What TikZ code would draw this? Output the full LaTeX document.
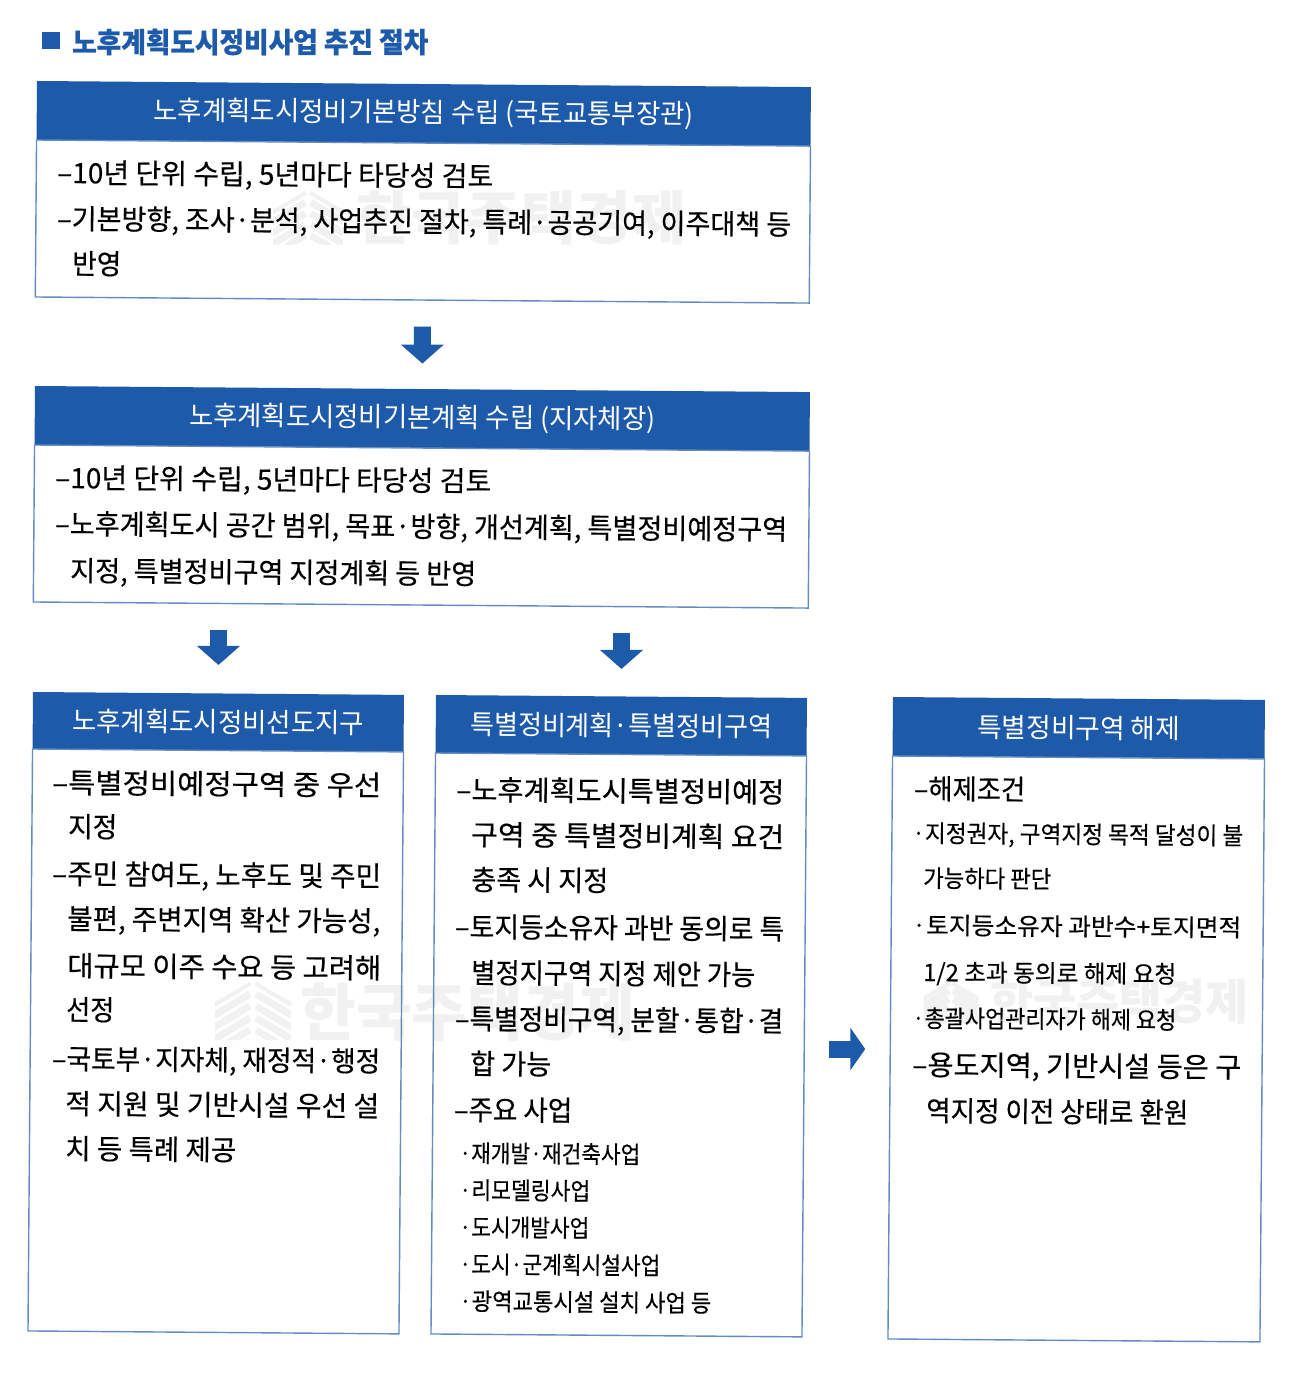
\documentclass[tikz,border=0pt]{standalone}
\usepackage{graphicx}
\usepackage{fontspec}
\setmainfont{Noto Sans CJK KR}
\newfontfamily\linefont[FakeBold=0.35]{Noto Sans CJK KR}
\newfontfamily\titlefont[FakeBold=0.7]{Noto Sans CJK KR}
\usetikzlibrary{positioning, arrows.meta, calc}

\definecolor{headblue}{RGB}{30,90,170}
\definecolor{edgeblue}{RGB}{100,140,195}
\definecolor{markgray}{RGB}{241,241,241}

% keep the height, squeeze the line to its width
\newcommand{\fitline}[2]{\resizebox{#1pt}{\height}{#2}}

\tikzset{
  headbox/.style={fill=headblue, text=white, rotate=-0.45, anchor=north west, inner sep=0pt, outer sep=0pt,
    minimum height=#1, font=\fontsize{27}{30}\selectfont},
  bodybox/.style={draw=edgeblue, line width=1.4pt, rotate=-0.45, anchor=north west, inner sep=0pt, outer sep=0pt,
    minimum height=#1},
  bigline/.style={anchor=base west, rotate=-0.45, inner sep=0pt, font=\linefont\fontsize{28}{30}\selectfont},
  smallline/.style={anchor=base west, rotate=-0.45, inner sep=0pt, font=\linefont\fontsize{24}{26}\selectfont},
  flowarrow/.style={draw=headblue, line width=17pt, -{Triangle[width=42pt,length=19pt]}},
  markword/.style={text=markgray, inner sep=0pt, anchor=west, font=\bfseries\fontsize{#1}{#1}\selectfont},
  marklogo/.pic={
    \begin{scope}
      \clip (-38,-8) -- (0,-30) -- (38,-8) -- (38,30) -- (-38,30) -- cycle;
      \foreach \k in {0,...,5} {
        \draw[markgray, line width=7pt] (-40,-6+\k*12) -- (-3,-28+\k*12);
        \draw[markgray, line width=7pt] (3,-28+\k*12) -- (40,-6+\k*12);
      }
    \end{scope}
  }
}

\begin{document}
\begin{tikzpicture}[x=1pt,y=-1pt]
  \fill[white] (0,0) rectangle (1290,1377);
  \useasboundingbox (0,0) rectangle (1290,1377);

  % Faint marks behind the text
  \pic[scale=0.92] at (308,217) {marklogo};
  \node[markword=58] (mark1) at (356,218) {\fitline{330}{한국주택경제}};
  \pic[scale=1] at (253,1010) {marklogo};
  \node[markword=62] (mark2) at (300,1012) {\fitline{335}{한국주택경제}};
  \pic[scale=0.72] at (951,1002) {marklogo};
  \node[markword=48] (mark3) at (990,1002) {\fitline{258}{한국주택경제}};

  % Title
  \node[fill=headblue, inner sep=0pt, minimum width=18pt, minimum height=17pt] (titlemark) at (51,40.5) {};
  \node[anchor=west, inner sep=0pt, text=headblue, font=\titlefont\bfseries\fontsize{28}{30}\selectfont] (title) at (72,42)
    {\fitline{356}{노후계획도시정비사업 추진 절차}};

  % Boxes
  \node[headbox=59pt, minimum width=774pt] (polhead) at (37,81) {\fitline{540}{노후계획도시정비기본방침 수립 (국토교통부장관)}};
  \node[bodybox=157pt, minimum width=774pt] (polbody) at (polhead.south west) {};

  \node[headbox=59pt, minimum width=775pt] (planhead) at (35,386) {\fitline{466}{노후계획도시정비기본계획 수립 (지자체장)}};
  \node[bodybox=157pt, minimum width=775pt] (planbody) at (planhead.south west) {};

  \node[headbox=57pt, minimum width=371pt] (pilothead) at (33,692) {\fitline{292}{노후계획도시정비선도지구}};
  \node[bodybox=582pt, minimum width=371pt] (pilotbody) at (pilothead.south west) {};

  \node[headbox=58pt, minimum width=371pt] (spechead) at (436,695) {\fitline{302}{특별정비계획·특별정비구역}};
  \node[bodybox=581pt, minimum width=371pt] (specbody) at (spechead.south west) {};

  \node[headbox=59pt, minimum width=372pt] (relhead) at (893,697) {\fitline{203}{특별정비구역 해제}};
  \node[bodybox=583pt, minimum width=372pt] (relbody) at (relhead.south west) {};

  % Lines of text
  \foreach \id/\sty/\x/\xe/\y/\txt in {
    pola/bigline/57/493/183/{–10년 단위 수립, 5년마다 타당성 검토},
    polb/bigline/57/791/229/{–기본방향, 조사·분석, 사업추진 절차, 특례·공공기여, 이주대책 등},
    polc/bigline/72/121/274/{반영},
    plana/bigline/55/491/488/{–10년 단위 수립, 5년마다 타당성 검토},
    planb/bigline/55/787/534/{–노후계획도시 공간 범위, 목표·방향, 개선계획, 특별정비예정구역},
    planc/bigline/70/476/581/{지정, 특별정비구역 지정계획 등 반영},
    pilota/bigline/52/381/793/{–특별정비예정구역  중  우선},
    pilotb/bigline/68/117/837/{지정},
    pilotc/bigline/52/381/884/{–주민 참여도, 노후도 및 주민},
    pilotd/bigline/67/380/929/{불편, 주변지역 확산 가능성,},
    pilote/bigline/67/381/976/{대규모 이주 수요 등 고려해},
    pilotf/bigline/66/114/1020/{선정},
    pilotg/bigline/52/380/1069/{–국토부·지자체, 재정적·행정},
    piloth/bigline/65/379/1114/{적 지원 및 기반시설 우선 설},
    piloti/bigline/65/236/1159/{치 등 특례 제공},
    speca/bigline/456/784/800/{–노후계획도시특별정비예정},
    specb/bigline/471/784/845/{구역 중 특별정비계획 요건},
    specc/bigline/471/608/890/{충족 시 지정},
    specd/bigline/455/784/937/{–토지등소유자 과반 동의로 특},
    spece/bigline/471/755/983/{별정지구역 지정 제안 가능},
    specf/bigline/455/783/1029/{–특별정비구역, 분할·통합·결},
    specg/bigline/470/551/1074/{합 가능},
    spech/bigline/454/572/1120/{–주요 사업},
    speci/smallline/459/640/1162/{·재개발·재건축사업},
    specj/smallline/459/590/1199/{·리모델링사업},
    speck/smallline/459/589/1236/{·도시개발사업},
    specl/smallline/459/660/1273/{·도시·군계획시설사업},
    specm/smallline/459/711/1310/{·광역교통시설 설치 사업 등},
    rela/bigline/914/1025/799/{–해제조건},
    relb/smallline/912/1243/842/{·지정권자, 구역지정 목적 달성이 불},
    relc/smallline/923/1051/887/{가능하다 판단},
    reld/smallline/912/1241/934/{·토지등소유자  과반수+토지면적},
    rele/smallline/923/1176/981/{1/2 초과 동의로 해제 요청},
    relf/smallline/912/1176/1027/{·총괄사업관리자가 해제 요청},
    relg/bigline/912/1241/1075/{–용도지역, 기반시설 등은 구},
    relh/bigline/926/1194/1121/{역지정 이전 상태로 환원}
  }{
    \pgfmathsetmacro{\w}{\xe-\x}
    \node[\sty] (\id) at (\x,\y) {\fitline{\w}{\txt}};
  }

  % Arrows between the boxes
  \draw[flowarrow, shorten <=26.5pt, shorten >=25.5pt] (polbody.south) -- (planhead.north);
  \draw[flowarrow, shorten <=25pt, shorten >=28.5pt] (pilothead.north |- planbody.south) -- (pilothead.north);
  \draw[flowarrow, shorten <=28pt, shorten >=27.5pt] (spechead.north |- planbody.south) -- (spechead.north);
  \coordinate (turn) at (847,1049);
  \draw[flowarrow, -{Triangle[width=42pt,length=15pt]}, shorten <=25pt, shorten >=25pt] (specbody.east |- turn) -- (relbody.west |- turn);
\end{tikzpicture}
\end{document}
